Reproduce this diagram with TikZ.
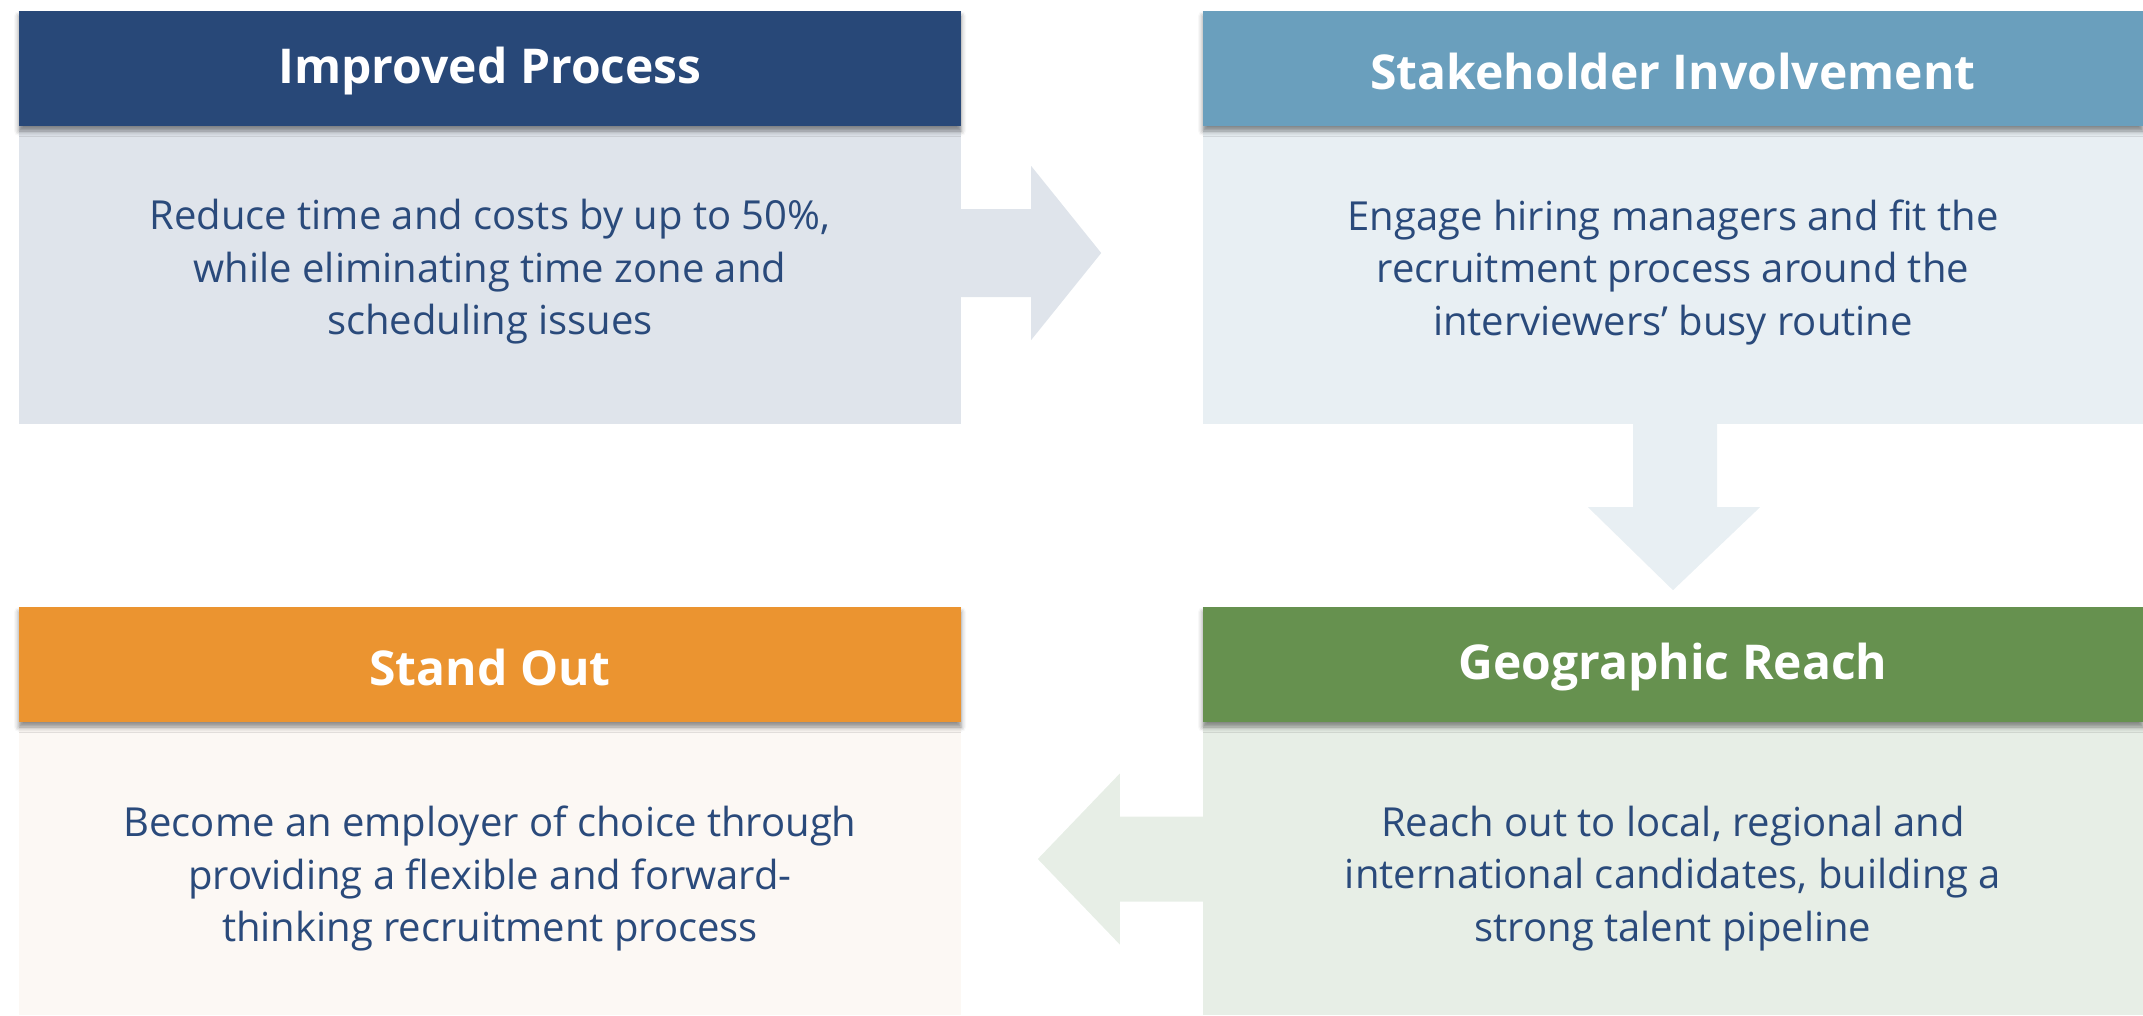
\documentclass[tikz,border=0pt]{standalone}
\usepackage{fontspec}
\setmainfont{Open Sans}
\usetikzlibrary{calc,shadows.blur}
\definecolor{hdblue}{HTML}{284878}
\definecolor{hdsteel}{HTML}{6A9FBD}
\definecolor{hdgreen}{HTML}{66914F}
\definecolor{hdorange}{HTML}{EB9430}
\definecolor{bdblue}{HTML}{DFE4EB}
\definecolor{bdsteel}{HTML}{E8EFF3}
\definecolor{bdgreen}{HTML}{E7EEE6}
\definecolor{bdorange}{HTML}{FCF8F4}
\definecolor{txt}{HTML}{2A4A7B}
\tikzset{
  header/.style={rectangle, inner sep=0pt, minimum width=942pt, minimum height=115pt,
    blur shadow={shadow xshift=0pt, shadow yshift=-5pt, shadow blur radius=5pt, shadow opacity=45}},
  headtext/.style={text=white, font=\bfseries\fontsize{48}{56}\selectfont, inner sep=0pt},
  bodybox/.style={rectangle, inner sep=0pt, minimum width=942pt, minimum height=298pt},
  bodytext/.style={text=txt, align=center, inner sep=0pt, font=\fontsize{40}{52.5}\selectfont},
  blockarrow/.style={draw=none}
}
\begin{document}
\begin{tikzpicture}[x=1pt,y=-1pt]
\useasboundingbox (0,0) rectangle (2143,1015);
% bodies
\node[bodybox, fill=bdblue] (b1) at (490,275) {};
\node[bodybox, fill=bdsteel, minimum width=940pt] (b2) at (1673,275) {};
\node[bodybox, fill=bdorange, minimum height=293pt] (b3) at (490,868.5) {};
\node[bodybox, fill=bdgreen, minimum width=940pt, minimum height=293pt] (b4) at (1673,868.5) {};
\node[bodytext] (t1) at ($(b1.center)+(0,-3)$) {Reduce time and costs by up to 50\%,\\while eliminating time zone and\\scheduling issues};
\node[bodytext] (t2) at ($(b2.center)+(0,-3)$) {Engage hiring managers and fit the\\recruitment process around the\\interviewers’ busy routine};
\node[bodytext] (t3) at ($(b3.center)+(0,10)$) {Become an employer of choice through\\providing a flexible and forward-\\thinking recruitment process};
\node[bodytext] (t4) at ($(b4.center)+(0,10)$) {Reach out to local, regional and\\international candidates, building a\\strong talent pipeline};
% arrows
\fill[bdblue, blockarrow] ($(b1.east)+(0,-22)$) ++(0,-44) -- ++(70,0) -- ++(0,-43) -- ++(70,87) -- ++(-70,87) -- ++(0,-43) -- ++(-70,0) -- cycle;
\fill[bdsteel, blockarrow] ($(b2.south)+(2,0)$) ++(-42,0) -- ++(84,0) -- ++(0,83) -- ++(43,0) -- ++(-87,83) -- ++(-85,-83) -- ++(45,0) -- cycle;
\fill[bdgreen, blockarrow] ($(b4.west)+(0,-9.5)$) ++(0,-42.5) -- ++(-83,0) -- ++(0,-43) -- ++(-82,85.5) -- ++(82,85.5) -- ++(0,-43) -- ++(83,0) -- cycle;
% headers
\node[header, fill=hdblue] (h1) at (490,68.5) {};
\node[header, fill=hdsteel, minimum width=940pt] (h2) at (1673,68.5) {};
\node[header, fill=hdorange] (h3) at (490,664.5) {};
\node[header, fill=hdgreen, minimum width=940pt] (h4) at (1673,664.5) {};
\node[headtext] (ht1) at ($(h1.center)+(0,3)$) {Improved Process};
\node[headtext] (ht2) at ($(h2.center)+(0,3)$) {Stakeholder Involvement};
\node[headtext] (ht3) at ($(h3.center)+(0,3)$) {Stand Out};
\node[headtext] (ht4) at ($(h4.center)+(0,3)$) {Geographic Reach};
\end{tikzpicture}
\end{document}
